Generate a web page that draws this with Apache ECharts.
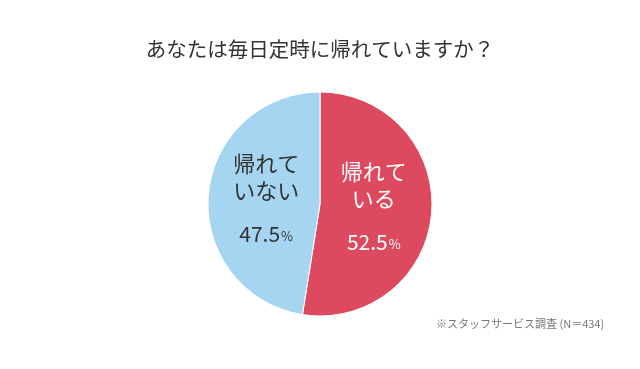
<!DOCTYPE html>
<html><head><meta charset="utf-8">
<script src="https://cdn.jsdelivr.net/npm/echarts@6/dist/echarts.min.js"></script>
<style>html,body{margin:0;padding:0;background:#fff}#c{width:640px;height:369px}</style>
</head><body><div id="c"></div>
<script>
const categories = ['帰れて\nいる', '帰れて\nいない'];
const values = [52.5, 47.5];
const colors = ['#dd4a5f', '#a5d5f0'];
const labelColors = ['#ffffff', '#333333'];
const titleText = 'あなたは毎日定時に帰れていますか？';
const noteText = '※スタッフサービス調査 (N＝434)';
const FF = '"Noto Sans CJK JP", "Noto Sans", sans-serif';
const labelShift = [[-5, -2], [5, -1]];

const chart = echarts.init(document.getElementById('c'));
chart.setOption({
  backgroundColor: '#fff',
  animation: false,
  title: {
    text: titleText, left: 'center', top: 34,
    textStyle: {fontFamily: FF, fontSize: 20.5, fontWeight: 'normal', color: '#333'}
  },
  graphic: [{
    type: 'text', left: 436, top: 318,
    style: {text: noteText, font: '11px ' + FF, fill: '#777'}
  }],
  series: [{
    type: 'pie',
    center: [320, 204],
    radius: [0, 112],
    startAngle: 90,
    clockwise: true,
    itemStyle: {borderColor: '#fff', borderWidth: 1},
    label: {
      position: 'inside',
      fontFamily: FF,
      formatter: p => p.name.split('\n').map(s => '{n|' + s + '}').join('\n') + '\n{g|}\n{v|' + p.value.toFixed(1) + '}{u|%}',
      rich: {
        n: {fontSize: 22, lineHeight: 27, fontFamily: FF},
        g: {fontSize: 10, lineHeight: 17},
        v: {fontSize: 21, lineHeight: 26, fontFamily: FF},
        u: {fontSize: 13, lineHeight: 26, fontFamily: FF, padding: [4, 0, 0, 1]}
      }
    },
    labelLine: {show: false},
    data: categories.map((c, i) => ({
      name: c, value: values[i],
      itemStyle: {color: colors[i]},
      label: {offset: labelShift[i], color: labelColors[i], rich: {n: {color: labelColors[i]}, v: {color: labelColors[i]}, u: {color: labelColors[i]}}}
    }))
  }]
});
</script></body></html>
